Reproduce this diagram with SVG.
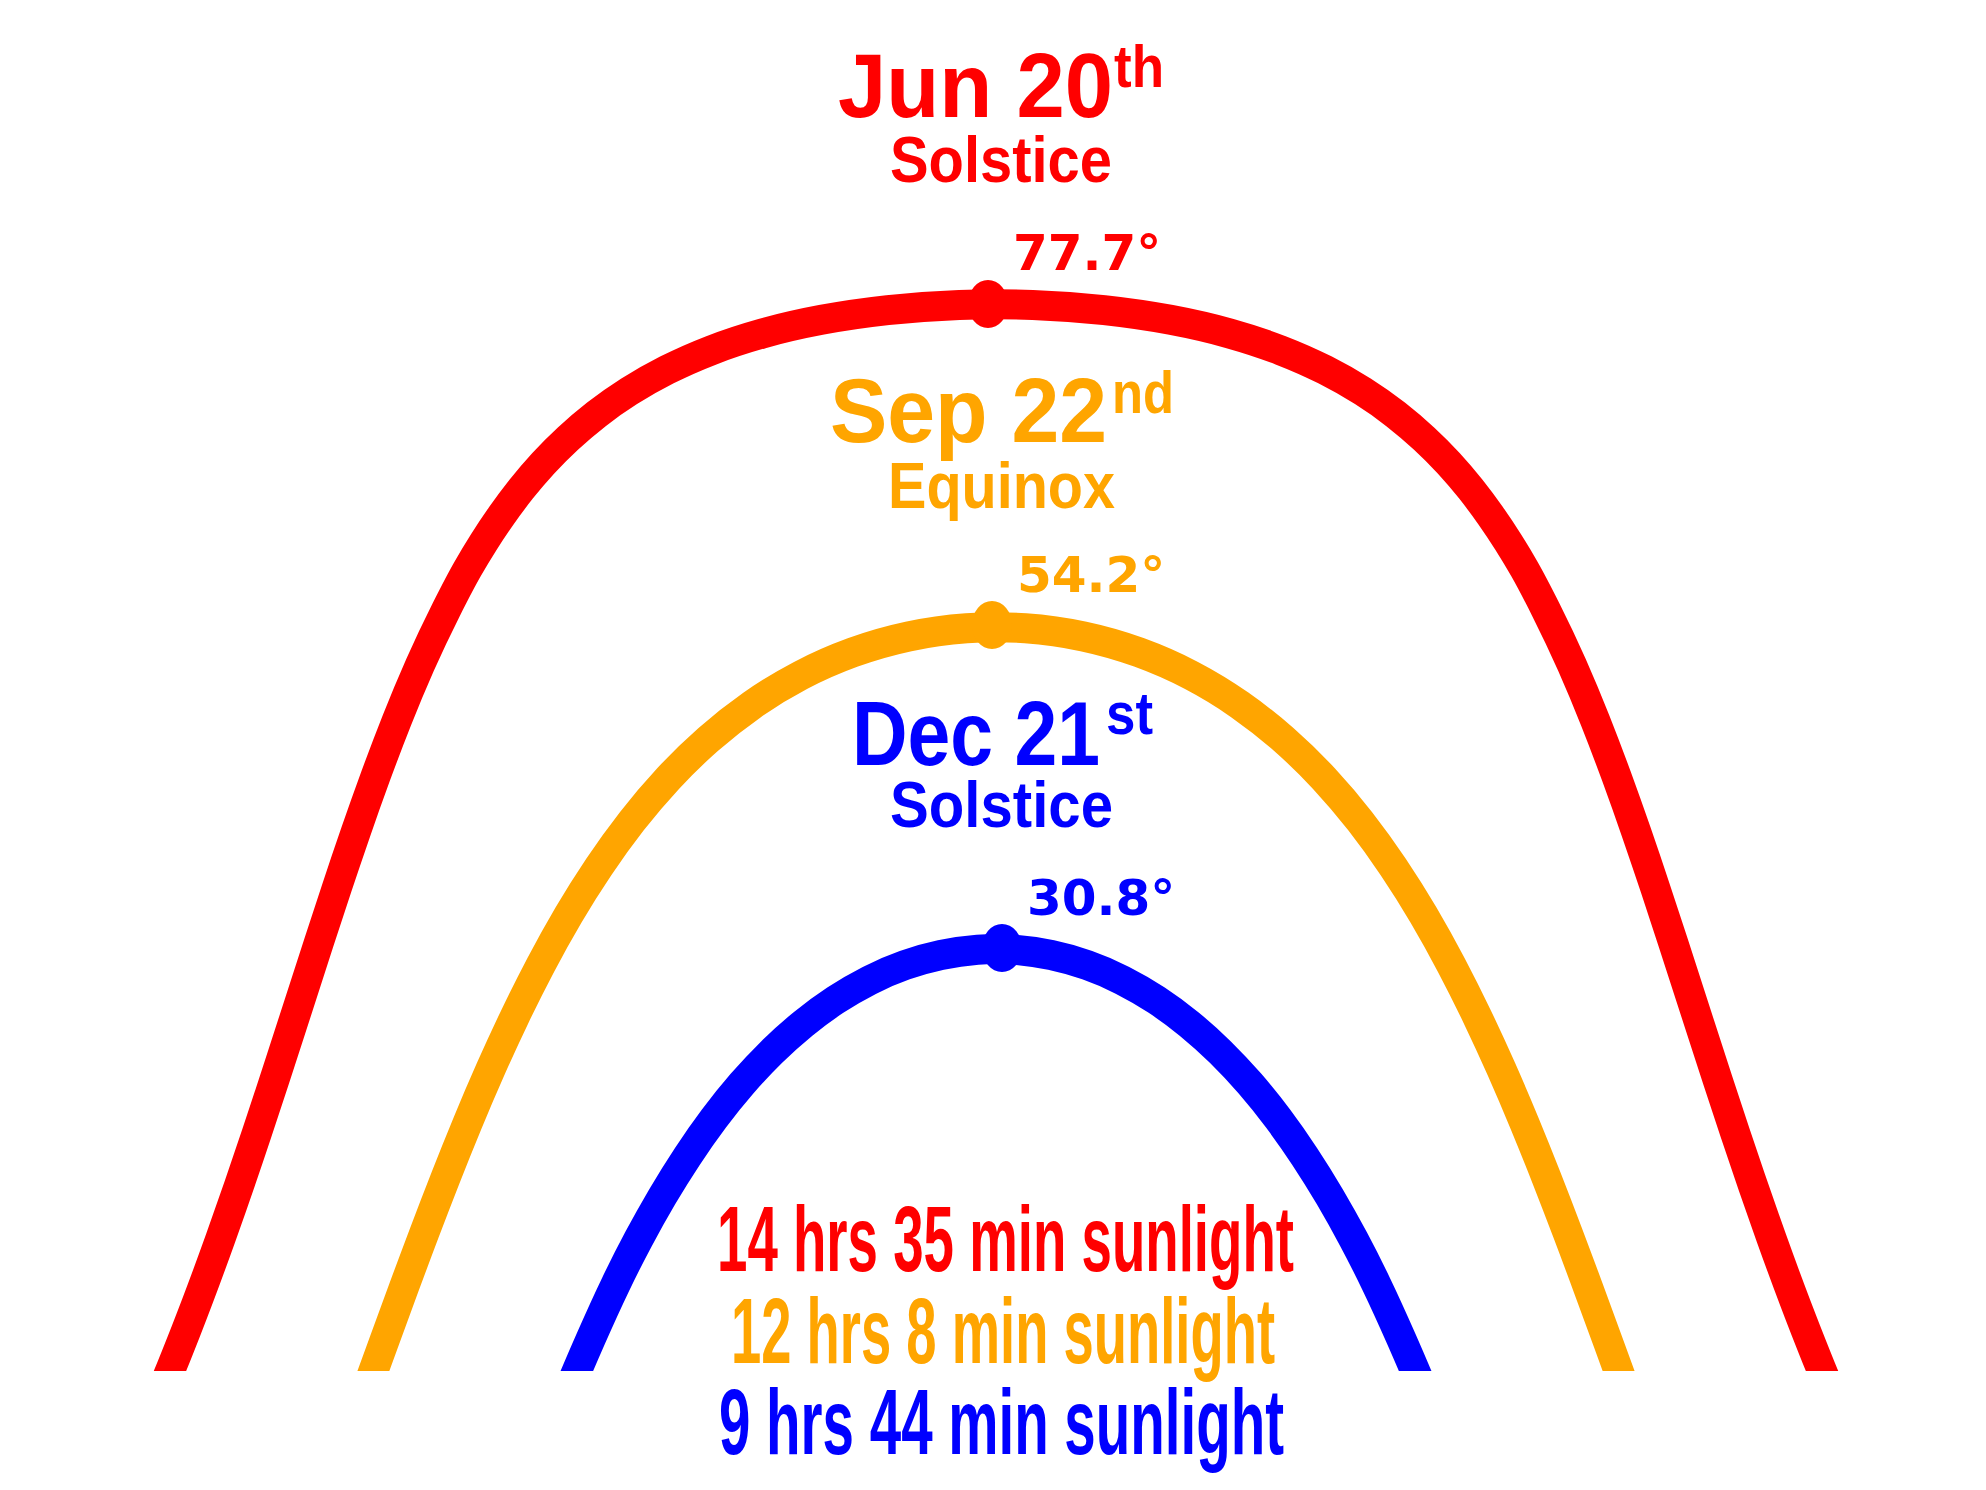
<svg xmlns="http://www.w3.org/2000/svg" width="1986" height="1490" viewBox="0 0 1986 1490">
<style>
.arc{fill:none;stroke-width:30;stroke-linejoin:round}
.lbl{font-family:"Liberation Sans",Arial,sans-serif;font-weight:bold}
.deg{font-family:"DejaVu Sans",sans-serif;font-weight:bold;font-size:50px}
.hrs{font-family:"Liberation Sans",Arial,sans-serif;font-weight:bold;font-size:92px}
.red{fill:#FF0000}.org{fill:#FFA500}.blu{fill:#0000FF}
</style>
<defs>
<clipPath id="ground"><rect x="0" y="0" width="1986" height="1371"/></clipPath>
</defs>
<rect width="1986" height="1490" fill="#FFFFFF"/>
<g id="connectors" clip-path="url(#ground)">
<path id="path-jun" class="arc" stroke="#FF0000" d="M154.4,1407.8 L162.2,1389.65 Q170,1371.5 186.05,1330.65 T220.6,1238.1 T256.85,1133.05 T292.15,1025.15 T318.7,943 T336.9,887.65 T355.75,832 T375.6,776.2 T396.8,720.5 T420,665.05 T446.05,609.9 T467.65,568.85 T483.85,541.95 T501.6,515.35 T521.25,489.05 T543.2,463.35 T568.05,438.45 T596.4,414.35 T629,391.4 T666.9,369.95 T711.05,350.4 T762.4,333.45 T821.5,319.8 T887.75,310.1 T959.25,305 T1032.75,305 T1104.25,310.1 T1170.5,319.8 T1229.6,333.45 T1280.95,350.4 T1325.1,369.95 T1363,391.4 T1395.6,414.35 T1423.95,438.45 T1448.8,463.35 T1470.75,489.05 T1490.4,515.35 T1508.15,541.95 T1524.35,568.85 T1545.95,609.9 T1572,665.05 T1595.2,720.5 T1616.4,776.2 T1636.25,832 T1655.1,887.65 T1673.3,943 T1699.85,1025.15 T1735.15,1133.05 T1771.4,1238.1 T1805.95,1330.65 T1829.8,1389.65 L1837.6,1407.8"/>
<path id="path-sep" class="arc" stroke="#FFA500" d="M352.9,1427.2 L363.05,1399.35 Q373.2,1371.5 383.35,1343.65 T403.75,1287.95 T424.45,1232.45 T445.65,1177.4 T467.6,1122.9 T490.6,1069.15 T514.9,1016.4 T540.75,964.9 T568.6,914.85 T598.85,866.8 T631.9,821.15 T668.2,778.45 T708.2,739.5 T752.25,704.85 T800.5,675.5 T852.8,652.45 T908.5,636.5 T966.55,628.3 T1025.45,628.3 T1083.5,636.5 T1139.2,652.45 T1191.5,675.5 T1239.75,704.85 T1283.8,739.5 T1323.8,778.45 T1360.1,821.15 T1393.15,866.8 T1423.4,914.85 T1451.25,964.9 T1477.1,1016.4 T1501.4,1069.15 T1524.4,1122.9 T1546.35,1177.4 T1567.55,1232.45 T1588.25,1287.95 T1608.65,1343.65 T1628.95,1399.35 L1639.1,1427.2"/>
<path id="path-dec" class="arc" stroke="#0000FF" d="M559.6,1413 L568,1392.25 Q576.4,1371.5 590.55,1339.25 T615.7,1284.15 T638.35,1239.4 T662.2,1196.75 T687.35,1156.4 T713.95,1118.55 T742,1083.7 T771.65,1052.1 T802.85,1024.05 T835.5,1000.05 T869.55,980.3 T904.75,965.2 T940.85,955.05 T977.55,949.8 T1014.45,949.8 T1051.15,955.05 T1087.25,965.2 T1122.45,980.3 T1156.5,1000.05 T1189.15,1024.05 T1220.35,1052.1 T1250,1083.7 T1278.05,1118.55 T1304.65,1156.4 T1329.8,1196.75 T1353.65,1239.4 T1376.3,1284.15 T1401.45,1339.25 T1424,1392.25 L1432.4,1413"/>
</g>
<g id="node-jun">
<ellipse class="red" cx="988" cy="304" rx="20" ry="24"/>
<text class="lbl red" x="838" y="117" font-size="90" textLength="275" lengthAdjust="spacingAndGlyphs">Jun 20</text>
<text class="lbl red" x="1114" y="87" font-size="60" textLength="50" lengthAdjust="spacingAndGlyphs">th</text>
<text class="lbl red" x="890" y="182" font-size="64" textLength="222" lengthAdjust="spacingAndGlyphs">Solstice</text>
<text class="deg red" x="1013" y="270">77.7°</text>
</g>
<g id="node-sep">
<ellipse class="org" cx="992" cy="625" rx="20" ry="24"/>
<text class="lbl org" x="830" y="442" font-size="90" textLength="277" lengthAdjust="spacingAndGlyphs">Sep 22</text>
<text class="lbl org" x="1112" y="413" font-size="60" textLength="62" lengthAdjust="spacingAndGlyphs">nd</text>
<text class="lbl org" x="888" y="508" font-size="64" textLength="227" lengthAdjust="spacingAndGlyphs">Equinox</text>
<text class="deg org" x="1017" y="592">54.2°</text>
</g>
<g id="node-dec">
<ellipse class="blu" cx="1002" cy="948" rx="20" ry="24"/>
<text class="lbl blu" x="852" y="765" font-size="90" textLength="248" lengthAdjust="spacingAndGlyphs">Dec 21</text>
<text class="lbl blu" x="1106" y="734" font-size="60" textLength="47" lengthAdjust="spacingAndGlyphs">st</text>
<text class="lbl blu" x="890" y="827" font-size="64" textLength="223" lengthAdjust="spacingAndGlyphs">Solstice</text>
<text class="deg blu" x="1027" y="915">30.8°</text>
</g>
<g id="legend">
<text class="hrs red" x="717" y="1271" textLength="577" lengthAdjust="spacingAndGlyphs">14 hrs 35 min sunlight</text>
<text class="hrs org" x="731" y="1363" textLength="544" lengthAdjust="spacingAndGlyphs">12 hrs 8 min sunlight</text>
<text class="hrs blu" x="719" y="1454" textLength="565" lengthAdjust="spacingAndGlyphs">9 hrs 44 min sunlight</text>
</g>
</svg>
